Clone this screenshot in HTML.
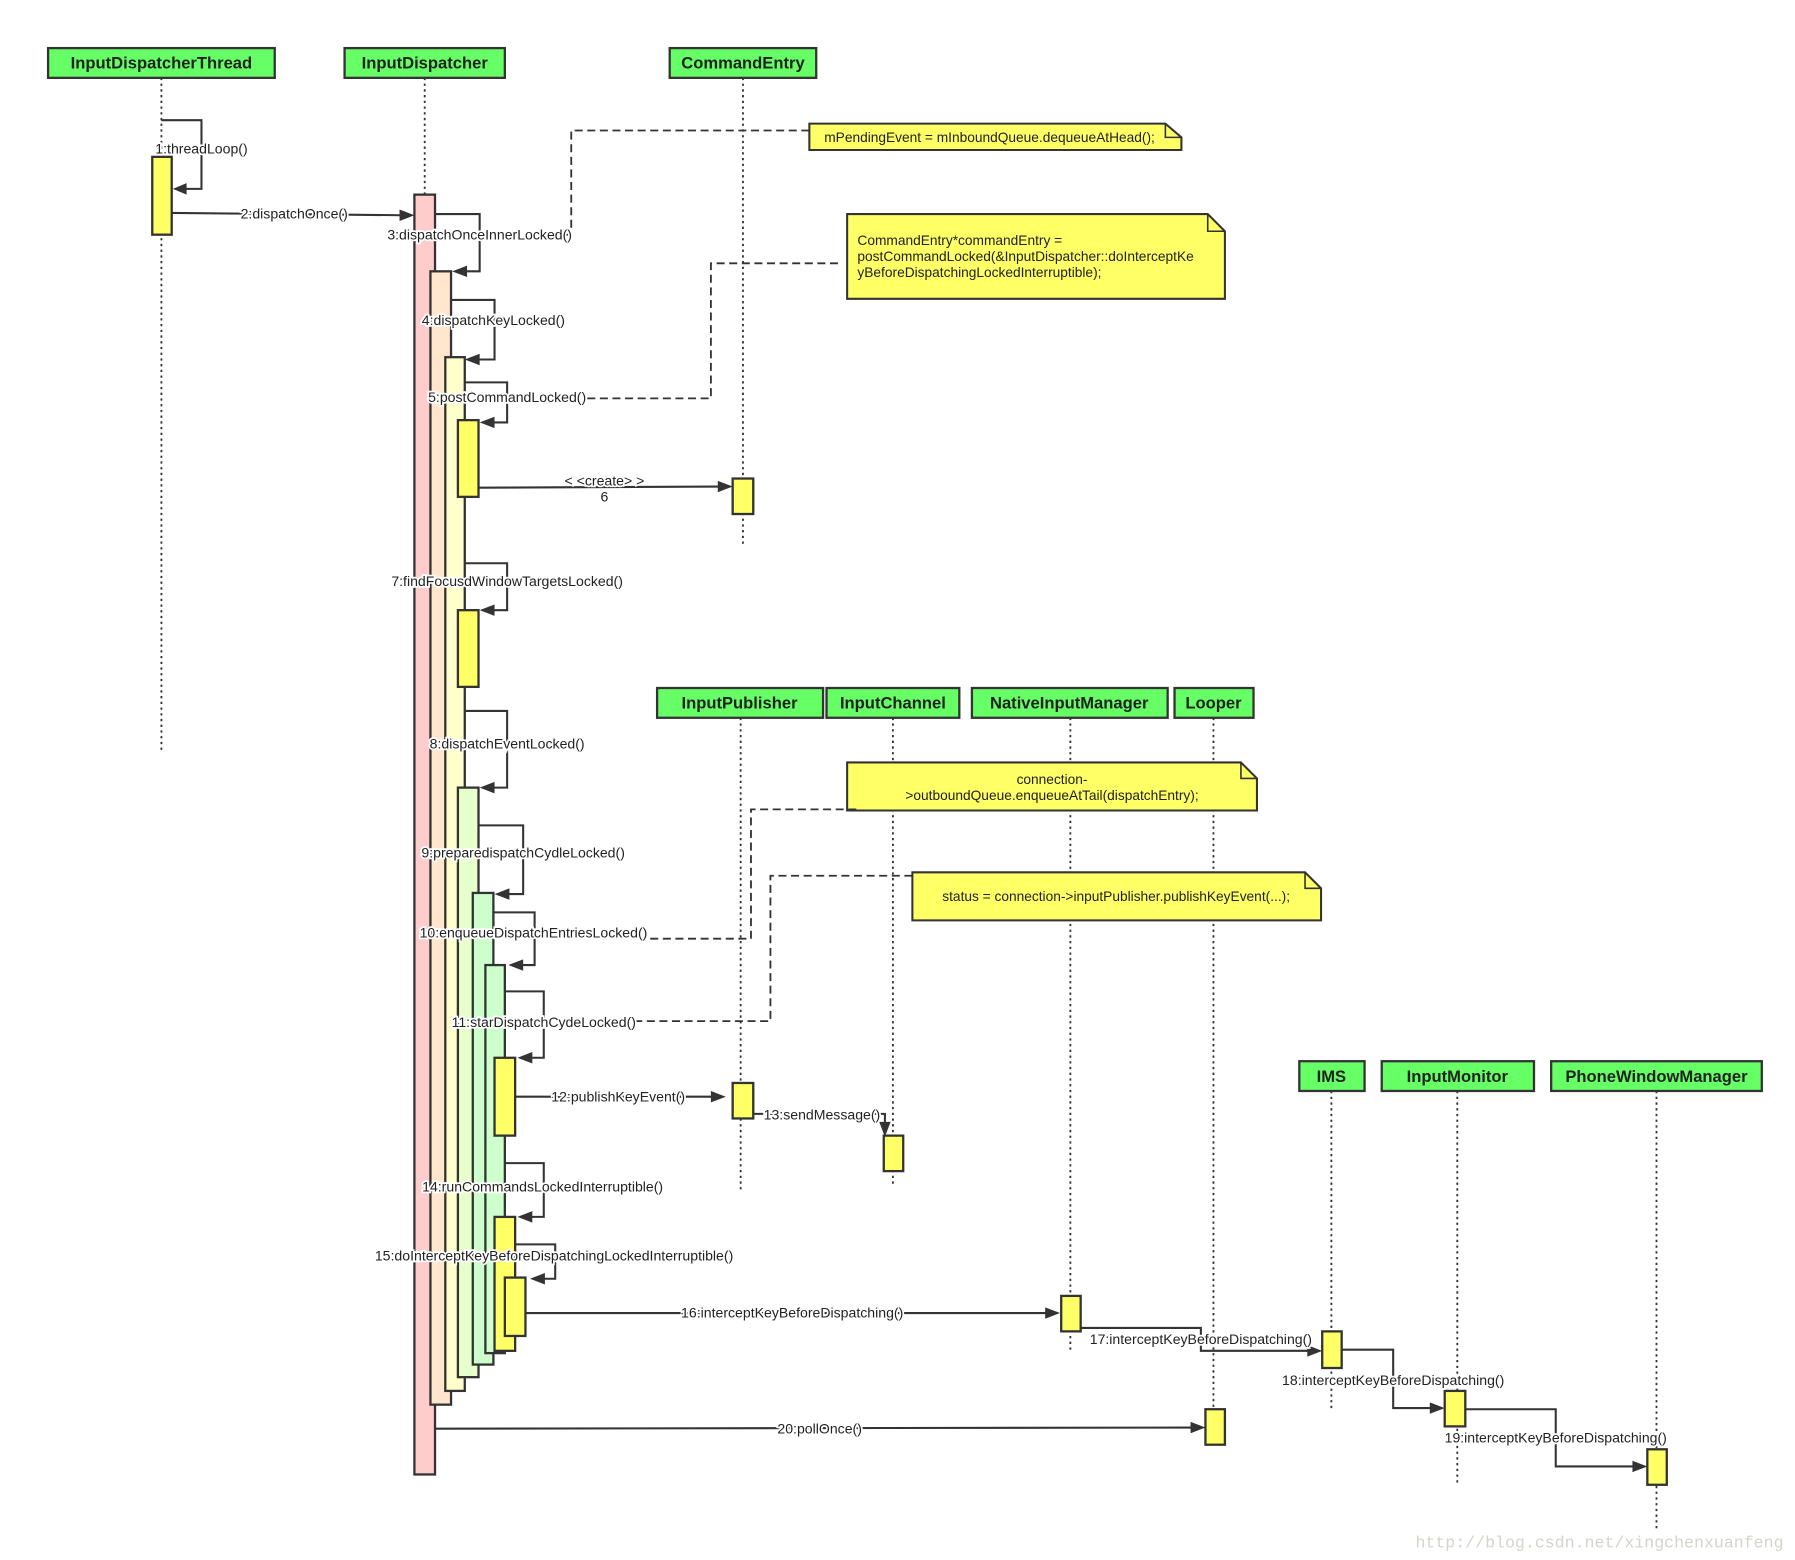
<!DOCTYPE html>
<html><head><meta charset="utf-8"><style>
html,body{margin:0;padding:0;background:#fff}
svg{display:block}
.h{font:bold 14.5px "Liberation Sans",sans-serif;fill:#222}
.l{font:12.3px "Liberation Sans",sans-serif;fill:#222;stroke:#fff;stroke-width:3;paint-order:stroke;text-anchor:middle}
.n{font:12px "Liberation Sans",sans-serif;fill:#222}
.life{stroke:#333;stroke-width:1.6;stroke-dasharray:2 3}
.ln{stroke:#333;stroke-width:1.8;fill:none}
.dash{stroke:#333;stroke-width:1.6;fill:none;stroke-dasharray:7 4}
.box{fill:#66ff66;stroke:#333;stroke-width:2}
.act{stroke:#333;stroke-width:2}
.ar{fill:#333}
.note{fill:#ffff66;stroke:#333;stroke-width:1.8}
</style></head><body>
<svg width="1795" height="1560" viewBox="0 0 1568 1362.7" xmlns="http://www.w3.org/2000/svg">
<line class="life" x1="141" y1="68" x2="141" y2="655"/>
<line class="life" x1="371" y1="68" x2="371" y2="170"/>
<line class="life" x1="649" y1="68" x2="649" y2="475"/>
<line class="life" x1="647" y1="627" x2="647" y2="1040"/>
<line class="life" x1="780" y1="627" x2="780" y2="1035"/>
<line class="life" x1="935" y1="627" x2="935" y2="1180"/>
<line class="life" x1="1060" y1="627" x2="1060" y2="1240"/>
<line class="life" x1="1163" y1="953" x2="1163" y2="1230"/>
<line class="life" x1="1273" y1="953" x2="1273" y2="1295"/>
<line class="life" x1="1447" y1="953" x2="1447" y2="1335"/>

<rect class="box" x="42" y="42" width="198" height="26"/><text class="h" x="141" y="60" text-anchor="middle">InputDispatcherThread</text>
<rect class="box" x="301" y="42" width="140" height="26"/><text class="h" x="371" y="60" text-anchor="middle">InputDispatcher</text>
<rect class="box" x="585" y="42" width="128" height="26"/><text class="h" x="649" y="60" text-anchor="middle">CommandEntry</text>
<rect class="box" x="574" y="601" width="145" height="26"/><text class="h" x="646" y="619" text-anchor="middle">InputPublisher</text>
<rect class="box" x="722" y="601" width="116" height="26"/><text class="h" x="780" y="619" text-anchor="middle">InputChannel</text>
<rect class="box" x="849" y="601" width="171" height="26"/><text class="h" x="934" y="619" text-anchor="middle">NativeInputManager</text>
<rect class="box" x="1026" y="601" width="69" height="26"/><text class="h" x="1060" y="619" text-anchor="middle">Looper</text>
<rect class="box" x="1135" y="927" width="57" height="26"/><text class="h" x="1163" y="945" text-anchor="middle">IMS</text>
<rect class="box" x="1207" y="927" width="133" height="26"/><text class="h" x="1273" y="945" text-anchor="middle">InputMonitor</text>
<rect class="box" x="1355" y="927" width="184" height="26"/><text class="h" x="1447" y="945" text-anchor="middle">PhoneWindowManager</text>

<rect class="act" fill="#ffff66" x="133" y="137" width="17" height="68"/>
<rect class="act" fill="#ffcccc" x="362" y="170" width="18" height="1118"/>
<rect class="act" fill="#ffe6cc" x="376" y="237" width="18" height="990"/>
<rect class="act" fill="#ffffcc" x="389" y="312" width="17" height="903"/>
<rect class="act" fill="#ffff66" x="400" y="367" width="18" height="67"/>
<rect class="act" fill="#ffff66" x="400" y="533" width="18" height="67"/>
<rect class="act" fill="#e6ffcc" x="400" y="688" width="18" height="515"/>
<rect class="act" fill="#ccffcc" x="413" y="780" width="18" height="412"/>
<rect class="act" fill="#ccffcc" x="424" y="843" width="17" height="339"/>
<rect class="act" fill="#ffff66" x="432" y="924" width="18" height="68"/>
<rect class="act" fill="#ffff66" x="432" y="1063" width="18" height="117"/>
<rect class="act" fill="#ffff66" x="441" y="1116" width="18" height="51"/>
<rect class="act" fill="#ffff66" x="640" y="418" width="18" height="31"/>
<rect class="act" fill="#ffff66" x="640" y="946" width="18" height="31"/>
<rect class="act" fill="#ffff66" x="772" y="992" width="17" height="31"/>
<rect class="act" fill="#ffff66" x="927" y="1132" width="17" height="31"/>
<rect class="act" fill="#ffff66" x="1155" y="1163" width="17" height="32"/>
<rect class="act" fill="#ffff66" x="1262" y="1215" width="18" height="31"/>
<rect class="act" fill="#ffff66" x="1439" y="1266" width="17" height="31"/>
<rect class="act" fill="#ffff66" x="1053" y="1231" width="17" height="31"/>

<polygon class="note" points="707,108 1018,108 1032,120 1032,131 707,131"/>
<polyline class="ln" points="1018,108 1018,120 1032,120" style="stroke-width:1.4"/>
<text class="n" x="720" y="124">mPendingEvent = mInboundQueue.dequeueAtHead();</text>

<polygon class="note" points="740,187 1055,187 1070,202 1070,261 740,261"/>
<polyline class="ln" points="1055,187 1055,202 1070,202" style="stroke-width:1.4"/>
<text class="n" x="749" y="214">CommandEntry*commandEntry =</text>
<text class="n" x="749" y="228">postCommandLocked(&amp;InputDispatcher::doInterceptKe</text>
<text class="n" x="749" y="242">yBeforeDispatchingLockedInterruptible);</text>

<polygon class="note" points="740,666 1084,666 1098,680 1098,708 740,708"/>
<polyline class="ln" points="1084,666 1084,680 1098,680" style="stroke-width:1.4"/>
<text class="n" x="919" y="685" text-anchor="middle">connection-</text>
<text class="n" x="919" y="699" text-anchor="middle">&gt;outboundQueue.enqueueAtTail(dispatchEntry);</text>

<polygon class="note" points="797,762 1140,762 1154,776 1154,804 797,804"/>
<polyline class="ln" points="1140,762 1140,776 1154,776" style="stroke-width:1.4"/>
<text class="n" x="975" y="787" text-anchor="middle">status = connection-&gt;inputPublisher.publishKeyEvent(...);</text>

<polyline class="dash" points="707,114 499,114 499,205 490,205"/>
<polyline class="dash" points="732,230 621,230 621,348 511,348"/>
<polyline class="dash" points="748,707 656,707 656,820 565,820"/>
<polyline class="dash" points="797,765 673,765 673,892 555,892"/>

<polyline class="ln" points="141,105 176,105 176,165 162,165"/><polygon class="ar" points="151,165 163,160 163,170"/>
<text class="l" x="176" y="134">1:threadLoop()</text>

<line class="ln" x1="150" y1="186" x2="350" y2="188"/><polygon class="ar" points="362,188 349,183 349,193"/>
<text class="l" x="257" y="191">2:dispatchOnce()</text>

<polyline class="ln" points="380,187 419,187 419,237 407,237"/><polygon class="ar" points="395,237 408,232 408,242"/>
<text class="l" x="419" y="209">3:dispatchOnceInnerLocked()</text>

<polyline class="ln" points="394,262 432,262 432,314 418,314"/><polygon class="ar" points="406,314 419,309 419,319"/>
<text class="l" x="431" y="284">4:dispatchKeyLocked()</text>

<polyline class="ln" points="406,334 443,334 443,369 431,369"/><polygon class="ar" points="419,369 432,364 432,374"/>
<text class="l" x="443" y="351">5:postCommandLocked()</text>

<line class="ln" x1="418" y1="426" x2="628" y2="425"/><polygon class="ar" points="640,425 627,420 627,430"/>
<text class="l" x="528" y="424">&lt; &lt;create&gt; &gt;</text>
<text class="l" x="528" y="438">6</text>

<polyline class="ln" points="406,492 443,492 443,533 431,533"/><polygon class="ar" points="419,533 432,528 432,538"/>
<text class="l" x="443" y="512">7:findFocusdWindowTargetsLocked()</text>

<polyline class="ln" points="406,621 443,621 443,688 431,688"/><polygon class="ar" points="419,688 432,683 432,693"/>
<text class="l" x="443" y="654">8:dispatchEventLocked()</text>

<polyline class="ln" points="418,721 457,721 457,781 444,781"/><polygon class="ar" points="432,781 445,776 445,786"/>
<text class="l" x="457" y="749">9:preparedispatchCydleLocked()</text>

<polyline class="ln" points="431,797 467,797 467,843 456,843"/><polygon class="ar" points="444,843 457,838 457,848"/>
<text class="l" x="466" y="819">10:enqueueDispatchEntriesLocked()</text>

<polyline class="ln" points="441,866 475,866 475,924 464,924"/><polygon class="ar" points="452,924 465,919 465,929"/>
<text class="l" x="475" y="897">11:starDispatchCydeLocked()</text>

<line class="ln" x1="450" y1="958" x2="622" y2="958"/><polygon class="ar" points="634,958 621,953 621,963"/>
<text class="l" x="540" y="962">12:publishKeyEvent()</text>

<polyline class="ln" points="658,973 773,973 773,982"/><polygon class="ar" points="773,993 768,980 778,980"/>
<text class="l" x="718" y="978">13:sendMessage()</text>

<polyline class="ln" points="441,1016 475,1016 475,1063 464,1063"/><polygon class="ar" points="452,1063 465,1058 465,1068"/>
<text class="l" x="474" y="1041">14:runCommandsLockedInterruptible()</text>

<polyline class="ln" points="450,1087 485,1087 485,1117 475,1117"/><polygon class="ar" points="463,1117 476,1112 476,1122"/>
<text class="l" x="484" y="1101">15:doInterceptKeyBeforeDispatchingLockedInterruptible()</text>

<line class="ln" x1="459" y1="1147" x2="914" y2="1147"/><polygon class="ar" points="926,1147 913,1142 913,1152"/>
<text class="l" x="692" y="1151">16:interceptKeyBeforeDispatching()</text>

<polyline class="ln" points="944,1160 1049,1160 1049,1180 1143,1180"/><polygon class="ar" points="1155,1180 1142,1175 1142,1185"/>
<text class="l" x="1049" y="1174">17:interceptKeyBeforeDispatching()</text>

<polyline class="ln" points="1172,1179 1217,1179 1217,1230 1250,1230"/><polygon class="ar" points="1262,1230 1249,1225 1249,1235"/>
<text class="l" x="1217" y="1210">18:interceptKeyBeforeDispatching()</text>

<polyline class="ln" points="1280,1231 1359,1231 1359,1281 1427,1281"/><polygon class="ar" points="1439,1281 1426,1276 1426,1286"/>
<text class="l" x="1359" y="1260">19:interceptKeyBeforeDispatching()</text>

<line class="ln" x1="380" y1="1248" x2="1041" y2="1247"/><polygon class="ar" points="1053,1247 1040,1242 1040,1252"/>
<text class="l" x="716" y="1252">20:pollOnce()</text>

<text x="1558" y="1352" text-anchor="end" style="font:14.5px 'Liberation Mono',monospace;fill:#d4d4cc">http://blog.csdn.net/xingchenxuanfeng</text>
</svg>
</body></html>
